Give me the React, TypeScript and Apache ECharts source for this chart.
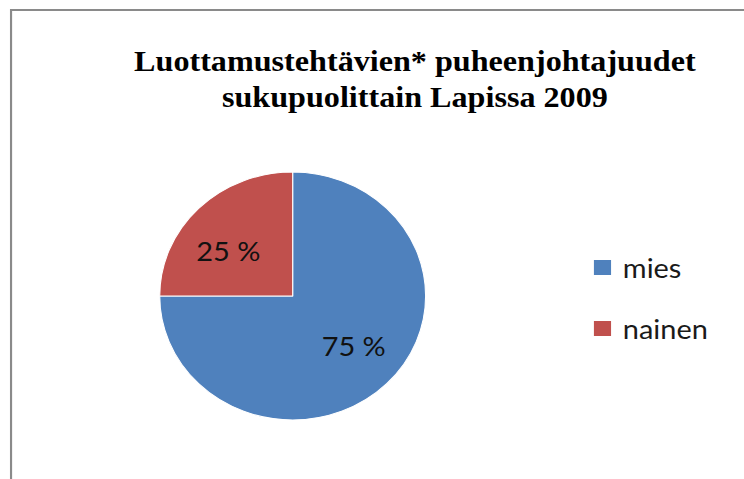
import React, { useEffect, useRef } from "react";
import * as echarts from "echarts";

const categories = ["mies", "nainen"];
const values = [75, 25];
const colors = ["#4F81BD", "#C0504D"];
const titleLines = ["Luottamustehtävien* puheenjohtajuudet", "sukupuolittain Lapissa 2009"];

const CHART_W = 694;
const CHART_H = 479;
const SCALE_X = 744 / CHART_W;

export default function App() {
  const ref = useRef<HTMLDivElement>(null);

  useEffect(() => {
    if (!ref.current) return;
    const chart = echarts.init(ref.current, undefined, { renderer: "svg" });
    chart.setOption({
      animation: false,
      backgroundColor: "#ffffff",
      title: {
        text: titleLines.join("\n"),
        left: 387,
        top: 43,
        padding: 0,
        textAlign: "center",
        textStyle: {
          fontFamily: "Liberation Serif",
          fontWeight: "bold",
          fontSize: 30,
          lineHeight: 36,
          color: "#000000",
        },
      },
      legend: {
        orient: "vertical",
        left: 552,
        top: 254,
        padding: 0,
        itemGap: 34,
        itemWidth: 18,
        itemHeight: 17,
        icon: "rect",
        selectedMode: false,
        data: categories,
        textStyle: {
          fontFamily: "Lato",
          fontSize: 27,
          color: "#1a1a1a",
          padding: [0, 0, 0, 5],
        },
      },
      graphic: [
        {
          type: "rect",
          shape: { x: 10.3, y: 10, width: 900, height: 700 },
          style: { fill: "none", stroke: "#8a8a8a", lineWidth: 2 },
          silent: true,
        },
      ],
      series: [
        {
          type: "pie",
          center: [273, 296],
          radius: 124,
          startAngle: 90,
          clockwise: true,
          silent: true,
          emphasis: { disabled: true },
          data: categories.map((name, i) => ({
            name,
            value: values[i],
            itemStyle: { color: colors[i] },
          })),
          itemStyle: { borderColor: "#ffffff", borderWidth: 1 },
          label: {
            show: true,
            position: "inside",
            formatter: "{c} %",
            fontFamily: "Lato",
            fontSize: 27,
            color: "#111111",
          },
          labelLine: { show: false },
          labelLayout: (params: any) =>
            params.dataIndex === 1 ? { dx: -14, dy: 0 } : { dx: 11, dy: 3 },
        },
      ],
    });
    return () => chart.dispose();
  }, []);

  return (
    <div
      style={{
        position: "fixed",
        left: 0,
        top: 0,
        width: 744,
        height: 479,
        overflow: "hidden",
        background: "#ffffff",
      }}
    >
      <div
        ref={ref}
        style={{
          width: CHART_W,
          height: CHART_H,
          transform: `scaleX(${SCALE_X})`,
          transformOrigin: "0 0",
        }}
      />
    </div>
  );
}
